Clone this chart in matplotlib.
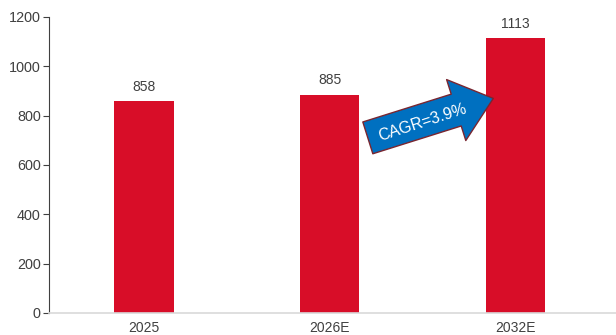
import numpy as np
import matplotlib.pyplot as plt

plt.rcParams['font.family'] = ['Liberation Sans', 'DejaVu Sans']

years = ["2025", "2026E", "2032E"]
values = [858, 885, 1113]
cagr_label = "CAGR=3.9%"

bar_color = "#d80d28"
text_color = "#404040"

fig = plt.figure(figsize=(6.16, 3.35), dpi=100)
ax = fig.add_axes([49 / 616, 22 / 335, 567 / 616, 296 / 335])

x = np.arange(len(years))
ax.bar(x, values, width=0.32, color=bar_color, zorder=2)

for xi, v in zip(x, values):
    ax.text(xi, v + 30, str(v), ha="center", va="bottom", fontsize=10, color=text_color)

ax.set_xlim(-0.51, 2.54)
ax.set_ylim(0, 1200)
ax.set_yticks(range(0, 1201, 200))
ax.set_xticks(x)
ax.set_xticklabels(years)

ax.spines["top"].set_visible(False)
ax.spines["right"].set_visible(False)
ax.spines["left"].set_color("#404040")
ax.spines["left"].set_linewidth(0.8)
ax.spines["bottom"].set_color("#d9d9d9")
ax.spines["bottom"].set_linewidth(1.2)
ax.tick_params(axis="y", length=4, width=0.8, color="#404040", labelsize=10.4, labelcolor=text_color, pad=2)
ax.tick_params(axis="x", length=0, labelsize=10, labelcolor=text_color, pad=6)

# CAGR arrow between 2026E and 2032E
ax.annotate("", xy=(1.88, 870), xytext=(1.205, 710),
            arrowprops=dict(arrowstyle="simple,head_length=1.4,head_width=2.3,tail_width=1.2",
                            mutation_scale=20, fc="#0070c0", ec="#7a2630", lw=1.0,
                            shrinkA=0, shrinkB=0),
            zorder=3)
ax.text(1.5, 772, cagr_label, rotation=18, ha="center", va="center",
        fontsize=11.5, color="white", zorder=4, rotation_mode="anchor")

fig.savefig("out.png", dpi=100)
